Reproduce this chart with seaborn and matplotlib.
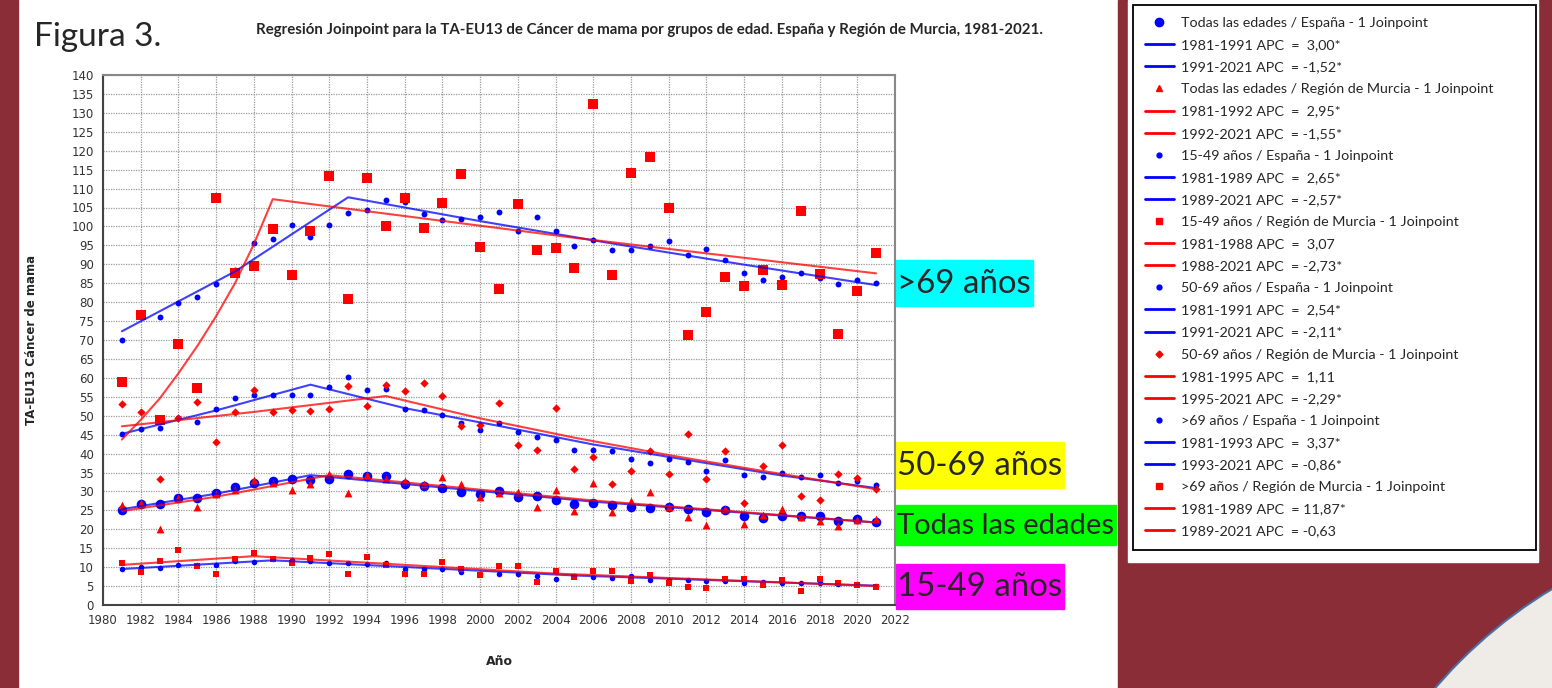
import numpy as np
import seaborn as sns
import matplotlib.pyplot as plt
from matplotlib.lines import Line2D
from matplotlib.patches import Rectangle, Circle

years = np.arange(1981, 2022)

esp_todas = [25.1, 26.8, 26.8, 28.3, 28.3, 29.6, 31.2, 32.1, 32.8, 33.3, 33.0, 33.4, 34.6, 34.1,
             34.1, 31.9, 31.4, 30.8, 29.9, 29.3, 30.2, 28.5, 28.8, 27.7, 26.7, 27.0, 26.3, 25.9,
             25.7, 25.8, 25.3, 24.6, 25.1, 23.4, 22.9, 23.5, 23.4, 23.4, 22.3, 22.8, 21.8]
mur_todas = [26.3, 27.0, 20.2, 28.3, 25.9, 29.4, 30.5, 33.0, 32.3, 30.4, 31.9, 34.6, 29.6, 34.3,
             33.2, 32.8, 31.9, 33.7, 31.9, 28.5, 29.6, 29.9, 26.0, 30.3, 24.7, 32.3, 24.5, 27.5,
             29.9, 25.9, 23.3, 21.1, 25.4, 21.5, 23.7, 25.3, 23.3, 22.1, 21.0, 22.4, 22.8]
esp_1549 = [9.4, 10.1, 9.9, 10.6, 10.6, 10.6, 11.5, 11.4, 12.2, 11.8, 11.7, 11.2, 11.2, 10.8,
            11.0, 9.5, 9.5, 9.4, 8.6, 8.3, 8.3, 8.2, 7.6, 7.0, 7.7, 7.4, 7.2, 7.6,
            6.7, 6.6, 6.6, 6.4, 6.3, 5.9, 6.1, 5.9, 5.9, 5.7, 5.5, 5.5, 4.9]
mur_1549 = [11.0, 8.6, 11.6, 14.4, 10.4, 8.3, 12.1, 13.8, 12.1, 11.2, 12.3, 13.6, 8.3, 12.6,
            10.5, 8.3, 8.3, 11.4, 9.6, 7.9, 10.4, 10.4, 6.1, 9.0, 7.3, 9.0, 9.0, 6.4,
            7.9, 5.9, 4.8, 4.5, 6.8, 6.8, 5.3, 6.7, 3.7, 7.0, 5.9, 5.4, 4.8]
esp_5069 = [45.3, 46.6, 46.7, 49.5, 48.4, 51.8, 54.7, 55.5, 55.5, 55.4, 55.4, 57.5, 60.2, 56.9,
            57.1, 51.8, 51.4, 50.1, 48.0, 46.1, 48.0, 45.7, 44.5, 43.5, 41.0, 41.0, 40.6, 38.6,
            37.5, 38.6, 37.8, 35.3, 38.2, 34.4, 33.8, 35.0, 33.8, 34.4, 32.2, 32.7, 31.8]
mur_5069 = [53.2, 51.0, 33.2, 49.3, 53.5, 43.0, 50.9, 56.8, 51.1, 51.6, 51.3, 51.7, 57.8, 52.5,
            58.2, 56.5, 58.7, 55.1, 47.2, 47.6, 53.3, 42.3, 40.9, 52.1, 35.9, 39.2, 31.9, 35.3,
            40.6, 34.6, 45.2, 33.2, 40.8, 27.0, 36.7, 42.2, 28.9, 27.8, 34.6, 33.6, 30.7]
esp_69 = [70.0, 76.0, 76.1, 79.8, 81.3, 84.9, 88.6, 95.7, 96.7, 100.5, 97.1, 100.5, 103.6, 104.4,
          107.0, 106.5, 103.3, 101.8, 102.0, 102.4, 103.7, 98.7, 102.4, 98.9, 94.7, 96.4, 93.8,
          93.9, 94.8, 96.2, 92.5, 94.1, 91.1, 87.6, 85.9, 86.6, 87.8, 86.3, 84.8, 85.9, 85.0]
mur_69 = [59.0, 76.5, 49.0, 69.0, 57.3, 107.6, 87.6, 89.5, 99.4, 87.3, 98.9, 113.3, 80.7, 112.7,
          100.2, 107.5, 99.6, 106.2, 113.8, 94.5, 83.6, 106.0, 93.9, 94.3, 89.1, 132.4, 87.2,
          114.0, 118.4, 104.9, 71.4, 77.5, 86.7, 84.2, 88.4, 84.4, 104.2, 87.4, 71.6, 82.9, 92.9]

# joinpoint fitted lines, values read at the knots and a few points in between
fit_esp_todas_x = [1981, 1986, 1991, 2006, 2021]
fit_esp_todas_y = [25.3, 29.4, 34.3, 27.3, 21.8]
fit_mur_todas_x = [1981, 1986, 1992, 2006, 2021]
fit_mur_todas_y = [24.8, 28.6, 34.3, 27.6, 21.8]
fit_esp_1549_x = [1981, 1989, 2005, 2021]
fit_esp_1549_y = [9.5, 11.8, 7.8, 5.1]
fit_mur_1549_x = [1981, 1988, 2004, 2021]
fit_mur_1549_y = [10.6, 12.9, 8.3, 5.0]
fit_esp_5069_x = [1981, 1986, 1991, 1996, 2001, 2006, 2011, 2016, 2021]
fit_esp_5069_y = [45.2, 51.4, 58.2, 52.0, 47.3, 42.4, 38.3, 34.2, 30.9]
fit_mur_5069_x = [1981, 1988, 1995, 2000, 2005, 2010, 2015, 2021]
fit_mur_5069_y = [47.2, 51.0, 55.2, 49.3, 44.2, 39.6, 35.4, 30.6]
fit_esp_69_x = [1981, 1987, 1993, 2000, 2007, 2014, 2021]
fit_esp_69_y = [72.3, 88.1, 107.7, 101.4, 95.5, 89.9, 84.5]
fit_mur_69_x = [1981, 1982, 1983, 1984, 1985, 1986, 1987, 1988, 1989, 2005, 2021]
fit_mur_69_y = [43.7, 48.9, 54.5, 61.2, 68.4, 76.3, 85.0, 95.3, 107.2, 97.0, 87.6]

legend_labels = [
    "Todas las edades / España - 1 Joinpoint",
    "1981-1991 APC  =  3,00*", "1991-2021 APC  = -1,52*",
    "Todas las edades / Región de Murcia - 1 Joinpoint",
    "1981-1992 APC  =  2,95*", "1992-2021 APC  = -1,55*",
    "15-49 años / España - 1 Joinpoint",
    "1981-1989 APC  =  2,65*", "1989-2021 APC  = -2,57*",
    "15-49 años / Región de Murcia - 1 Joinpoint",
    "1981-1988 APC  =  3,07", "1988-2021 APC  = -2,73*",
    "50-69 años / España - 1 Joinpoint",
    "1981-1991 APC  =  2,54*", "1991-2021 APC  = -2,11*",
    "50-69 años / Región de Murcia - 1 Joinpoint",
    "1981-1995 APC  =  1,11", "1995-2021 APC  = -2,29*",
    ">69 años / España - 1 Joinpoint",
    "1981-1993 APC  =  3,37*", "1993-2021 APC  = -0,86*",
    ">69 años / Región de Murcia - 1 Joinpoint",
    "1981-1989 APC  = 11,87*", "1989-2021 APC  = -0,63",
]

BLUE = "#0000ff"
RED = "#ff0000"
MAROON = "#8a2d36"

# (values, fit x, fit y, colour, marker, size, legend marker size)
series = [
    (esp_todas, fit_esp_todas_x, fit_esp_todas_y, BLUE, "o", 48, 6),
    (mur_todas, fit_mur_todas_x, fit_mur_todas_y, RED, "^", 32, 4),
    (esp_1549, fit_esp_1549_x, fit_esp_1549_y, BLUE, "o", 16, 3.5),
    (mur_1549, fit_mur_1549_x, fit_mur_1549_y, RED, "s", 20, 4),
    (esp_5069, fit_esp_5069_x, fit_esp_5069_y, BLUE, "o", 18, 3.5),
    (mur_5069, fit_mur_5069_x, fit_mur_5069_y, RED, "D", 18, 3.5),
    (esp_69, fit_esp_69_x, fit_esp_69_y, BLUE, "o", 18, 3.5),
    (mur_69, fit_mur_69_x, fit_mur_69_y, RED, "s", 48, 5),
]

sns.set_style("white")
plt.rcParams["font.family"] = ["Lato", "DejaVu Sans"]

fig = plt.figure(figsize=(15.52, 6.88), dpi=100)

# slide background (pixel coordinates)
bg = fig.add_axes([0, 0, 1, 1])
bg.set_xlim(0, 1552)
bg.set_ylim(688, 0)
bg.axis("off")
bg.add_patch(Rectangle((0, 0), 18, 688, color=MAROON))
bg.add_patch(Rectangle((1118, 0), 434, 688, color=MAROON))
bg.add_patch(Circle((1800, 1000), 480, facecolor="#efebe7", edgecolor="#4a6fa5", lw=1.5))
bg.add_patch(Rectangle((1128, 0), 410, 562, color="white"))

bg.text(34, 37, "Figura 3.", fontsize=24, va="center", ha="left")
bg.text(650, 30, "Regresión Joinpoint para la TA-EU13 de Cáncer de mama por grupos de edad. "
        "España y Región de Murcia, 1981-2021.", fontsize=10.8, fontweight="bold",
        va="center", ha="center")

# coloured age group tags: text, colour, top, width, height, font size
tags = [(">69 años", "#00ffff", 260, 137, 46, 23.8),
        ("50-69 años", "#ffff00", 442, 168, 46, 23.8),
        ("Todas las edades", "#00ff00", 505, 220, 40, 21),
        ("15-49 años", "#ff00ff", 564, 168, 45, 23.8)]
for txt, col, top, w, h, fs in tags:
    bg.add_patch(Rectangle((896, top), w, h, color=col))
    bg.text(897, top + h / 2 + 1, txt, fontsize=fs, va="center", ha="left")

ax = fig.add_axes([103 / 1552, 1 - 605 / 688, 792 / 1552, 530 / 688])
ax.set_zorder(2)

for vals, fx, fy, col, mk, sz, _ in series:
    sns.scatterplot(x=years, y=vals, ax=ax, color=col, marker=mk, s=sz, linewidth=0, zorder=3)
    sns.lineplot(x=fx, y=fy, ax=ax, color=col, lw=1.5, alpha=0.75, zorder=4)

ax.set_xlim(1980, 2022)
ax.set_ylim(0, 140)
ax.set_xticks(np.arange(1980, 2023, 2))
ax.set_yticks(np.arange(0, 141, 5))
ax.grid(True, color="#9a9a9a", linestyle=(0, (1, 1)), lw=0.9)
ax.tick_params(length=3, labelsize=8.5, colors="#333333")
for lab in ax.get_xticklabels() + ax.get_yticklabels():
    lab.set_family("DejaVu Sans")
for s in ["left", "bottom"]:
    ax.spines[s].set_color("#444444")
    ax.spines[s].set_linewidth(1.5)
for s in ["top", "right"]:
    ax.spines[s].set_color("#888888")
    ax.spines[s].set_linewidth(1.5)

ax.set_xlabel("Año", fontsize=9, fontweight="bold", family="DejaVu Sans")
ax.set_ylabel("TA-EU13 Cáncer de mama", fontsize=8.5, fontweight="bold", family="DejaVu Sans")
ax.xaxis.set_label_coords(0.5, -0.094)
ax.yaxis.set_label_coords(-0.082, 0.5)

# legend: marker entry then the two segment lines for each series
handles = []
for vals, fx, fy, col, mk, sz, lms in series:
    handles.append(Line2D([], [], linestyle="none", marker=mk, color=col, markersize=lms))
    handles.append(Line2D([], [], color=col, lw=2))
    handles.append(Line2D([], [], color=col, lw=2))

leg = fig.legend(handles, legend_labels, loc="upper left",
                 bbox_to_anchor=(1133 / 1552, 1 - 5 / 688, 403 / 1552, 0), mode="expand",
                 prop=dict(family="Lato", size=10.3), labelspacing=0.705, handlelength=2.0,
                 handletextpad=0.5, borderpad=0.85, borderaxespad=0, fancybox=False,
                 framealpha=1, edgecolor="black")
leg.get_frame().set_linewidth(1.3)

fig.savefig("out.png", dpi=100)
